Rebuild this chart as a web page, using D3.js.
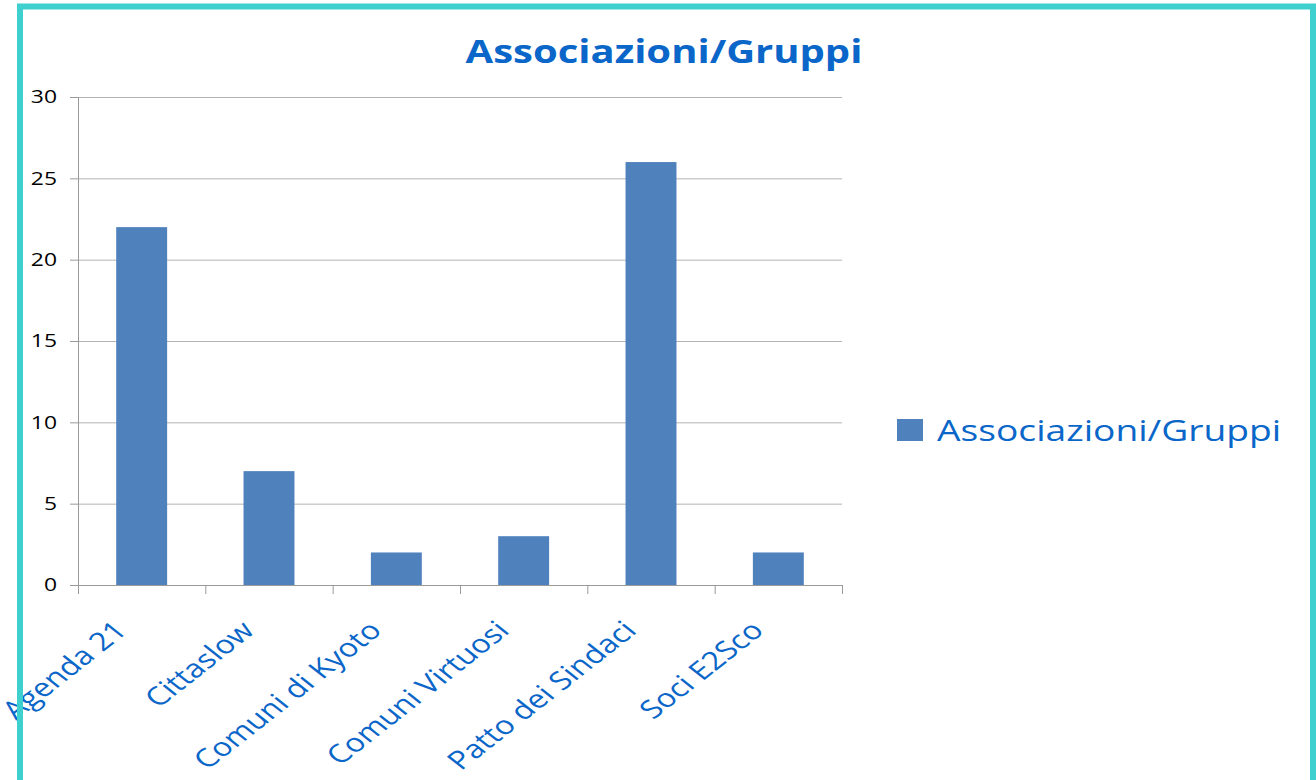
<!DOCTYPE html>
<html>
<head>
<meta charset="utf-8">
<script src="https://cdn.jsdelivr.net/npm/d3@7"></script>
<style>
  html, body { margin: 0; padding: 0; background: #fff; }
  svg { display: block; }
</style>
</head>
<body>
<svg id="chart"></svg>
<script>
let categories = ["Agenda 21", "Cittaslow", "Comuni di Kyoto", "Comuni Virtuosi", "Patto dei Sindaci", "Soci E2Sco"];
let values = [22, 7, 2, 3, 26, 2];
let yTicks = [0, 5, 10, 15, 20, 25, 30];
let seriesName = "Associazioni/Gruppi";
let titleText = "Associazioni/Gruppi";

let kCanvas = { "w": 1316, "h": 780 };
let kChart = { "x": 78, "y": 97, "w": 764, "h": 488 };
let kColors = {
  "bar": "#4f81bd",
  "text": "#0a66c8",
  "grid": "#b3b3b3",
  "axis": "#9a9a9a",
  "frame": "#3ecfcf"
};
let kFont = "'Open Sans', 'DejaVu Sans', sans-serif";
// the original picture is stretched sideways, so text is widened too
let SX = 1.27;

let svg = d3.select("#chart")
  .attr("width", kCanvas.w)
  .attr("height", kCanvas.h)
  .style("font-family", kFont);

let x = d3.scaleBand()
  .domain(categories)
  .range([kChart.x, kChart.x + kChart.w])
  .paddingInner(0.6)
  .paddingOuter(0.3);

let y = d3.scaleLinear()
  .domain([0, 30])
  .range([kChart.y + kChart.h, kChart.y]);

// gridlines
svg.append("g")
  .selectAll("line")
  .data(yTicks.filter(d => d > 0))
  .join("line")
  .attr("x1", kChart.x)
  .attr("x2", kChart.x + kChart.w)
  .attr("y1", d => y(d) + 0.5)
  .attr("y2", d => y(d) + 0.5)
  .attr("stroke", kColors.grid)
  .attr("stroke-width", 1);

// bars
svg.append("g")
  .selectAll("rect")
  .data(values)
  .join("rect")
  .attr("x", (d, i) => x(categories[i]))
  .attr("y", d => y(d))
  .attr("width", x.bandwidth())
  .attr("height", d => y(0) - y(d))
  .attr("fill", kColors.bar);

// y axis
let yAxis = svg.append("g")
  .attr("transform", "translate(" + kChart.x + ",0)")
  .call(d3.axisLeft(y).tickValues(yTicks).tickSize(8).tickPadding(12));
yAxis.select(".domain").attr("stroke", kColors.axis);
yAxis.selectAll(".tick line").attr("stroke", kColors.axis);
yAxis.selectAll(".tick text")
  .attr("x", 0)
  .attr("transform", "translate(-21,0) scale(" + SX + ",1)")
  .attr("fill", "#000")
  .style("font-family", kFont)
  .style("font-size", "18px");

// x axis: ticks at band boundaries
let xAxisG = svg.append("g");
xAxisG.append("line")
  .attr("x1", kChart.x)
  .attr("x2", kChart.x + kChart.w)
  .attr("y1", y(0) + 0.5)
  .attr("y2", y(0) + 0.5)
  .attr("stroke", kColors.axis);
xAxisG.selectAll("line.tick")
  .data(d3.range(categories.length + 1))
  .join("line")
  .attr("class", "tick")
  .attr("x1", i => kChart.x + i * kChart.w / categories.length + 0.5)
  .attr("x2", i => kChart.x + i * kChart.w / categories.length + 0.5)
  .attr("y1", y(0))
  .attr("y2", y(0) + 9)
  .attr("stroke", kColors.axis);

xAxisG.selectAll("text")
  .data(categories)
  .join("text")
  .attr("transform", d => "translate(" + (x(d) + x.bandwidth() / 2 - 13) + "," + (y(0) + 47) + ") scale(" + SX + ",1) rotate(-45)")
  .attr("text-anchor", "end")
  .attr("fill", kColors.text)
  .style("font-size", "25.5px")
  .text(d => d);

// title
svg.append("text")
  .attr("transform", "translate(664,63) scale(" + (SX - 0.02) + ",1)")
  .attr("text-anchor", "middle")
  .attr("fill", kColors.text)
  .style("font-size", "32px")
  .style("font-weight", "bold")
  .text(titleText);

// legend
let legend = svg.append("g").attr("transform", "translate(897,419)");
legend.append("rect")
  .attr("width", 26)
  .attr("height", 22)
  .attr("fill", kColors.bar);
legend.append("text")
  .attr("transform", "translate(40,22) scale(" + (SX - 0.03) + ",1)")
  .attr("fill", kColors.text)
  .style("font-size", "30px")
  .text(seriesName);

// frame
svg.append("path")
  .attr("d", "M20," + kCanvas.h + " V6.5 H1313 V" + kCanvas.h)
  .attr("fill", "none")
  .attr("stroke", kColors.frame)
  .attr("stroke-width", 6);
</script>
</body>
</html>
